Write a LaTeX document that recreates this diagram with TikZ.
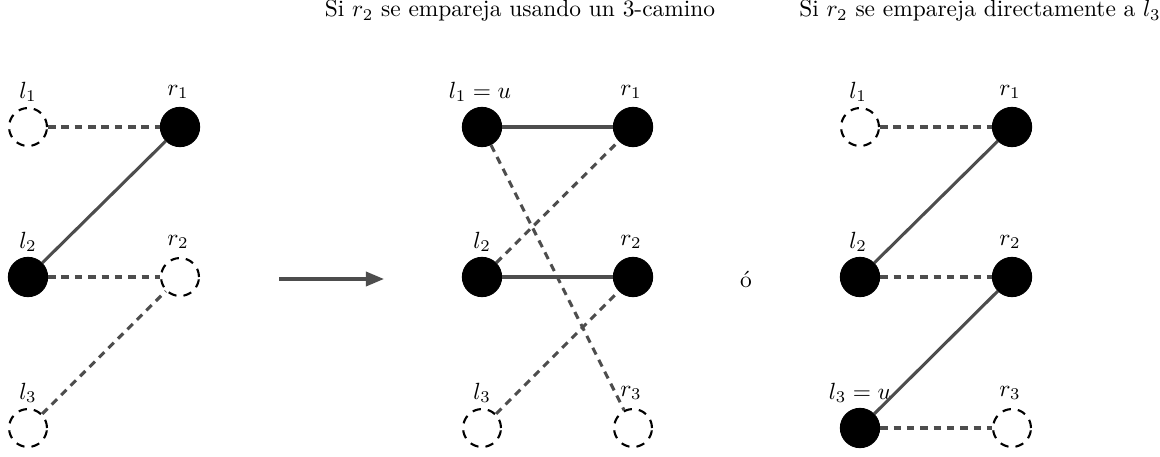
\documentclass[tikz,border=0pt]{standalone}
\usetikzlibrary{arrows.meta}
\definecolor{edgegray}{HTML}{4D4D4D}
\tikzset{
  full/.style={circle,fill=black,draw=black,minimum size=16.8pt,inner sep=0pt},
  empty/.style={circle,draw=black,line width=0.9pt,dash pattern=on 3.6pt off 3.0pt,minimum size=16.2pt,inner sep=0pt},
  solidedge/.style={draw=edgegray,line width=1.3pt},
  dashedge/.style={draw=edgegray,line width=1.3pt,dash pattern=on 3.2pt off 2.5pt},
  lbl/.style={inner sep=0pt,font=\normalsize},
}
\begin{document}
\begin{tikzpicture}[x=0.427pt,y=-0.427pt]
\useasboundingbox (0,0) rectangle (1160,457);
% titles
\node[lbl,anchor=base] (t1) at (520,17) {Si $r_2$ se empareja usando un 3-camino};
\node[lbl,anchor=base] (t2) at (980,17) {Si $r_2$ se empareja directamente a $l_3$};
% left graph
\node[empty] (al1) at (28,127) {};
\node[full]  (ar1) at (180,127) {};
\node[full]  (al2) at (28,277) {};
\node[empty] (ar2) at (180,277) {};
\node[empty] (al3) at (28,428) {};
\node[lbl] (xal1) at (28,92) {$l_1$};
\node[lbl] (xar1) at (178,92) {$r_1$};
\node[lbl] (xal2) at (28,242) {$l_2$};
\node[lbl] (xar2) at (178,242) {$r_2$};
\node[lbl] (xal3) at (28,393) {$l_3$};
\draw[dashedge] (al1) -- (ar1);
\draw[solidedge] (al2) -- (ar1);
\draw[dashedge] (al2) -- (ar2);
\draw[dashedge] (al3) -- (ar2);
% arrow
\coordinate (as) at (279,279);
\coordinate (ae) at (384,279);
\draw[draw=edgegray,line width=1.4pt,-{Triangle[length=7.7pt,width=6pt]}] (as) -- (ae);
% middle graph
\node[full]  (bl1) at (482,127) {};
\node[full]  (br1) at (633,127) {};
\node[full]  (bl2) at (482,277) {};
\node[full]  (br2) at (633,277) {};
\node[empty] (bl3) at (482,428) {};
\node[empty] (br3) at (633,428) {};
\node[lbl] (xbl1) at (480,92) {$l_1 = u$};
\node[lbl] (xbr1) at (631,92) {$r_1$};
\node[lbl] (xbl2) at (482,242) {$l_2$};
\node[lbl] (xbr2) at (631,242) {$r_2$};
\node[lbl] (xbl3) at (482,393) {$l_3$};
\node[lbl] (xbr3) at (631,393) {$r_3$};
\draw[solidedge] (bl1) -- (br1);
\draw[dashedge] (bl1) -- (br3);
\draw[dashedge] (bl2) -- (br1);
\draw[solidedge] (bl2) -- (br2);
\draw[dashedge] (bl3) -- (br2);
% o
\node[lbl] (oo) at (746,279) {ó};
% right graph
\node[empty] (cl1) at (860,127) {};
\node[full]  (cr1) at (1012,127) {};
\node[full]  (cl2) at (860,277) {};
\node[full]  (cr2) at (1012,277) {};
\node[full]  (cl3) at (860,428) {};
\node[empty] (cr3) at (1012,428) {};
\node[lbl] (xcl1) at (858,92) {$l_1$};
\node[lbl] (xcr1) at (1010,92) {$r_1$};
\node[lbl] (xcl2) at (858,242) {$l_2$};
\node[lbl] (xcr2) at (1010,242) {$r_2$};
\node[lbl] (xcl3) at (860,393) {$l_3 = u$};
\node[lbl] (xcr3) at (1010,393) {$r_3$};
\draw[dashedge] (cl1) -- (cr1);
\draw[solidedge] (cl2) -- (cr1);
\draw[dashedge] (cl2) -- (cr2);
\draw[solidedge] (cl3) -- (cr2);
\draw[dashedge] (cl3) -- (cr3);
\end{tikzpicture}
\end{document}
